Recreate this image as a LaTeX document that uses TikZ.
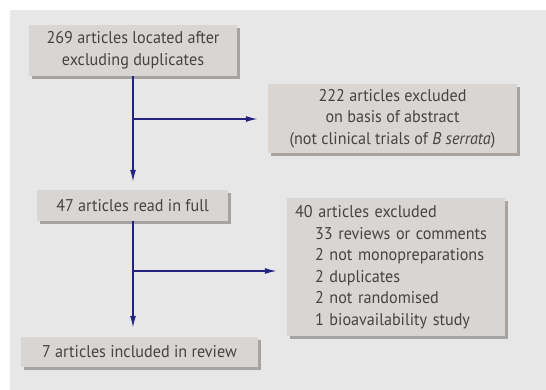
\documentclass[tikz,border=0pt]{standalone}
\usepackage{fontspec}
\setmainfont{PT Sans}[FakeStretch=0.95]
\usetikzlibrary{positioning, arrows.meta, shadows}
\definecolor{bggray}{HTML}{E7E7E7}
\definecolor{boxgray}{HTML}{D9D5D2}
\definecolor{shadegray}{HTML}{A6A3A1}
\definecolor{txtgray}{HTML}{444444}
\definecolor{navy}{HTML}{23237F}

\begin{document}
\begin{tikzpicture}[x=1pt,y=-1pt,>={Latex[length=12pt,width=6pt]},
	flow/.style={draw=navy, line width=1.5pt},
	box/.style={fill=boxgray, text=txtgray, inner sep=0pt, align=center,
		drop shadow={shadow xshift=3pt, shadow yshift=-3pt, fill=shadegray, opacity=1}},
	font=\fontsize{17}{21.5}\selectfont]
		\useasboundingbox (0,0) rectangle (546,390);
		\fill[bggray] (10,10) rectangle (546,390);

		\node[box, minimum width=208pt, minimum height=51pt] (LOCATED) 		at (133,50.5)	{269 articles located after\\excluding duplicates};
		\node[box, minimum width=249pt, minimum height=69pt] (EXCL_ABSTRACT) 	at (392.5,118.5)	{222 articles excluded\\on basis of abstract\\(not clinical trials of \textit{B serrata})};
		\node[box, minimum width=191pt, minimum height=31pt] (READ_FULL) 	at (132.5,205.5)	{47 articles read in full};
		\node[box, inner xsep=8pt, text width=202pt, minimum height=138pt, align=left] (EXCL_FULL) at (396,267)
			{40 articles excluded\\\hspace*{20pt}33 reviews or comments\\\hspace*{20pt}2 not monopreparations\\\hspace*{20pt}2 duplicates\\\hspace*{20pt}2 not randomised\\\hspace*{20pt}1 bioavailability study};
		\node[box, minimum width=237pt, minimum height=30pt] (INCLUDED) 	at (139.5,352)	{7 articles included in review};

		\coordinate (SPLIT_A) at (133,119);
		\coordinate (SPLIT_B) at (133,271);

		\draw[flow, ->, shorten >=8pt]	(LOCATED.south -| SPLIT_A)		--	(READ_FULL.north -| SPLIT_A);
		\draw[flow, ->, shorten >=10pt]	(SPLIT_A)		--	(SPLIT_A -| EXCL_ABSTRACT.west);
		\draw[flow, ->, shorten >=9pt]	(READ_FULL.south -| SPLIT_B)	--	(INCLUDED.north -| SPLIT_B);
		\draw[flow, ->, shorten >=10pt]	(SPLIT_B)		--	(SPLIT_B -| EXCL_FULL.west);

	\end{tikzpicture}
\end{document}
